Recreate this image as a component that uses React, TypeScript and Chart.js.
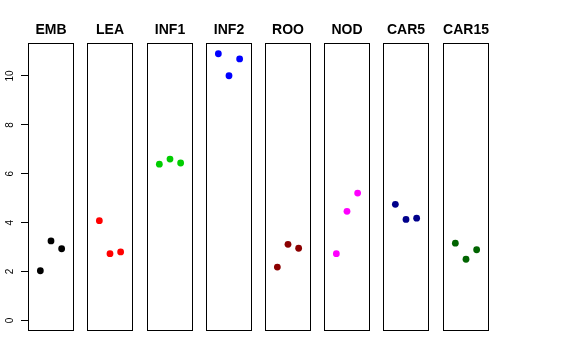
import { useEffect, useRef } from 'react';
import { Chart, registerables } from 'chart.js';

Chart.register(...registerables);

// ---- data ----
const categories = ['EMB', 'LEA', 'INF1', 'INF2', 'ROO', 'NOD', 'CAR5', 'CAR15'];
const replicates = [1, 2, 3];
const EMB = [2.03, 3.25, 2.93];
const LEA = [4.08, 2.73, 2.8];
const INF1 = [6.39, 6.6, 6.44];
const INF2 = [10.91, 10.01, 10.7];
const ROO = [2.18, 3.11, 2.95];
const NOD = [2.73, 4.46, 5.21];
const CAR5 = [4.75, 4.13, 4.18];
const CAR15 = [3.16, 2.5, 2.89];
const seriesValues = [EMB, LEA, INF1, INF2, ROO, NOD, CAR5, CAR15];
const pointColors = ['#000000', '#FF0000', '#00CD00', '#0000FF', '#8B0000', '#FF00FF', '#00008B', '#006400'];
const yTicks = [0, 2, 4, 6, 8, 10];

const FONT = "'Liberation Sans', Arial, Helvetica, sans-serif";
const Y_MIN = -0.436;
const Y_MAX = 11.35;
const X_MIN = -0.16;
const X_MAX = 4.16;

const framePlugin = {
  id: 'frame',
  afterDraw(chart: any) {
    const { ctx, chartArea: a } = chart;
    ctx.save();
    ctx.strokeStyle = '#000';
    ctx.lineWidth = 1;
    ctx.strokeRect(a.left + 0.5, a.top + 0.5, a.right - a.left - 1, a.bottom - a.top - 1);
    ctx.restore();
  },
};

const W = 576;
const H = 360;
const PANEL_LEFTS = [28, 87, 147, 206, 265, 324, 383, 443];
const PANEL_W = 46;
const AXIS_W = 28;
const PLOT_BOTTOM = 331;

function Panel({ index }: { index: number }) {
  const ref = useRef<HTMLCanvasElement | null>(null);
  const withAxis = index === 0;

  useEffect(() => {
    if (!ref.current) return;
    const values = seriesValues[index];
    const left = PANEL_LEFTS[index];
    const chart = new Chart(ref.current, {
      type: 'scatter',
      data: {
        datasets: [
          {
            label: categories[index],
            data: replicates.map((x, i) => ({ x, y: values[i] })),
            backgroundColor: pointColors[index],
            borderWidth: 0,
            pointRadius: 3.4,
            pointHoverRadius: 3.4,
          },
        ],
      },
      options: {
        animation: false,
        responsive: false,
        maintainAspectRatio: false,
        events: [],
        layout: {
          padding: {
            left: withAxis ? left - AXIS_W : left,
            right: W - left - PANEL_W,
            top: 0,
            bottom: H - PLOT_BOTTOM,
          },
        },
        plugins: {
          legend: { display: false },
          tooltip: { enabled: false },
          title: {
            display: true,
            text: categories[index],
            fullSize: false,
            color: '#000',
            font: { family: FONT, size: 14, weight: 'bold' },
            padding: { top: 22, bottom: 4.2 },
          },
        },
        scales: {
          x: {
            type: 'linear',
            min: X_MIN,
            max: X_MAX,
            display: false,
          },
          y: withAxis
            ? {
                type: 'linear',
                min: Y_MIN,
                max: Y_MAX,
                display: true,
                afterBuildTicks: (s: any) => {
                  s.ticks = yTicks.map((v) => ({ value: v }));
                },
                afterFit: (s: any) => {
                  s.width = AXIS_W;
                },
                border: { display: false },
                grid: {
                  display: true,
                  drawOnChartArea: false,
                  drawTicks: true,
                  tickLength: 7,
                  tickColor: '#000',
                  tickWidth: 1,
                },
                ticks: {
                  minRotation: 90,
                  maxRotation: 90,
                  crossAlign: 'center',
                  padding: 5,
                  color: '#000',
                  font: { family: FONT, size: 10 },
                  callback: (v: any) => String(v),
                },
              }
            : {
                type: 'linear',
                min: Y_MIN,
                max: Y_MAX,
                display: false,
              },
        },
      },
      plugins: [framePlugin],
    } as any);
    return () => chart.destroy();
  }, [index]);

  return (
    <canvas
      ref={ref}
      width={W}
      height={H}
      style={{ position: 'absolute', left: 0, top: 0, width: W, height: H }}
    />
  );
}

export default function App() {
  return (
    <div
      style={{
        position: 'fixed',
        left: 0,
        top: 0,
        width: W,
        height: H,
        background: '#fff',
        overflow: 'hidden',
      }}
    >
      {categories.map((c, i) => (
        <Panel key={c} index={i} />
      ))}
    </div>
  );
}
